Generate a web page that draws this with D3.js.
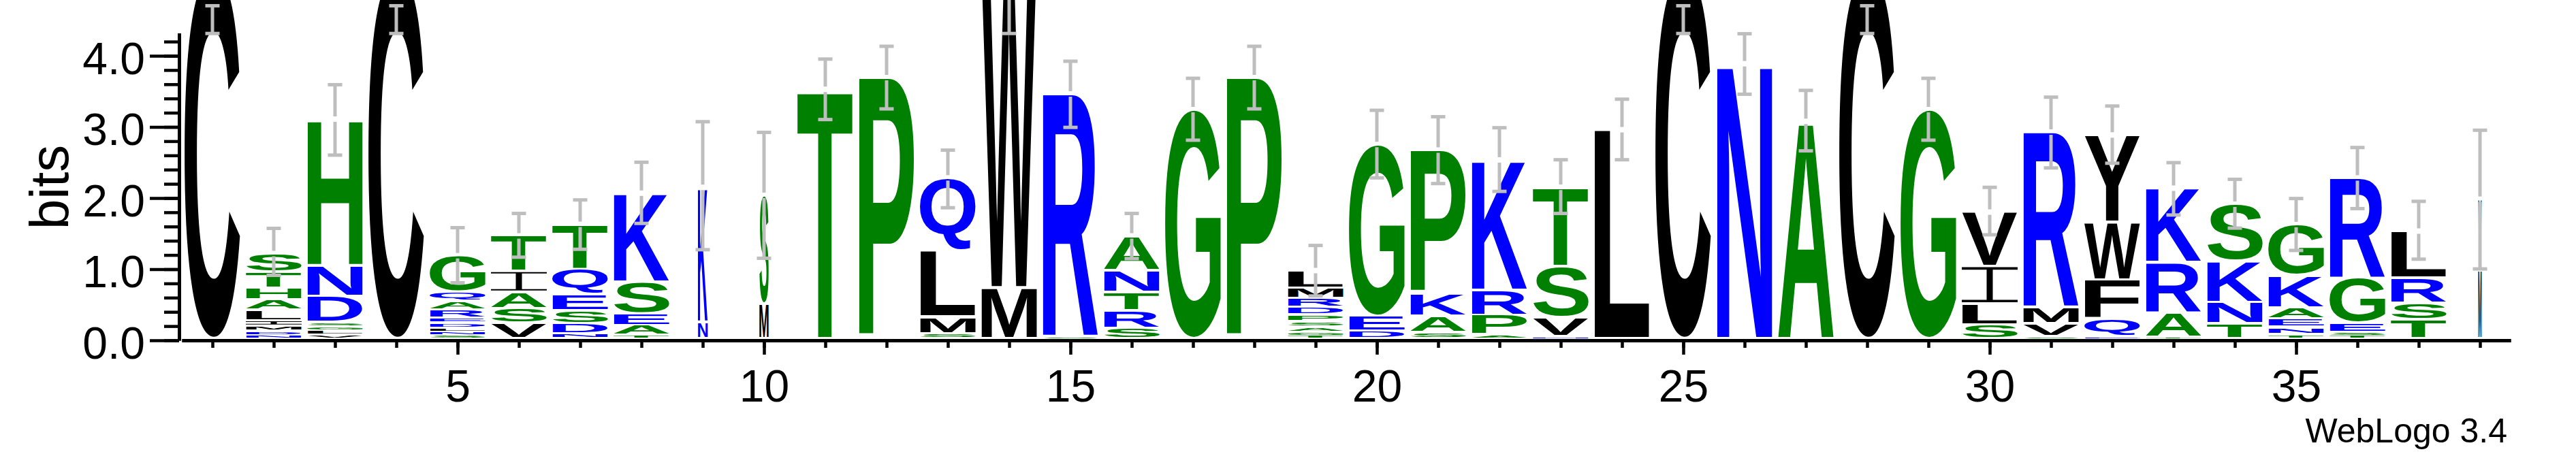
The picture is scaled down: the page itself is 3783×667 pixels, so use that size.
<!DOCTYPE html>
<html>
<head>
<meta charset="utf-8">
<script src="https://cdnjs.cloudflare.com/ajax/libs/d3/7.8.5/d3.min.js"></script>
<style>
  body { margin: 0; background: #fff; }
  svg { display: block; }
</style>
</head>
<body>
<script>
// sequence positions
var positions = d3.range(1, 39);

// letters of each stack, bottom to top
var stackLetters = ["C", "NDMILAHTS", "VLGSDNH", "C", "SNLDERAQG", "VSAIT", "NDSEQT", "TAESK",
  "NK", "MS", "T", "P", "SMLQ", "MW", "SR", "SRTNA", "G", "P", "TGASPDRML", "DEG", "SAKP",
  "APRK", "NVST", "L", "C", "N", "A", "C", "G", "SLIV", "SVMR", "EQFWY", "TARK", "TNKS",
  "TNEAKG", "TSEGR", "TSRL", "MV"];

// height of each letter in bits, same order
var stackBits = [
  [5.15],
  [0.045, 0.06, 0.07, 0.078, 0.148, 0.144, 0.163, 0.225, 0.263],
  [0.051, 0.064, 0.058, 0.058, 0.365, 0.43, 2.06],
  [5.15],
  [0.053, 0.045, 0.049, 0.07, 0.073, 0.115, 0.119, 0.134, 0.508],
  [0.213, 0.204, 0.237, 0.29, 0.50],
  [0.07, 0.139, 0.188, 0.233, 0.35, 0.627],
  [0.045, 0.139, 0.164, 0.445, 1.252],
  [0.233, 1.894],
  [0.49, 1.525],
  [3.505],
  [3.67],
  [0.07, 0.237, 0.933, 1.02],
  [0.716, 4.6],
  [0.03, 3.41],
  [0.143, 0.246, 0.261, 0.311, 0.483],
  [3.22],
  [3.67],
  [0.04, 0.05, 0.07, 0.075, 0.10, 0.102, 0.132, 0.143, 0.245],
  [0.103, 0.21, 2.416],
  [0.088, 0.226, 0.32, 2.017],
  [0.05, 0.279, 0.351, 1.833],
  [0.029, 0.263, 0.718, 1.118],
  [2.937],
  [5.15],
  [3.865],
  [3.055],
  [5.15],
  [3.22],
  [0.192, 0.295, 0.527, 0.765],
  [0.033, 0.18, 0.229, 2.462],
  [0.026, 0.24, 0.56, 0.81, 1.227],
  [0.016, 0.34, 0.711, 1.048],
  [0.209, 0.302, 0.581, 0.798],
  [0.059, 0.099, 0.121, 0.156, 0.451, 0.718],
  [0.038, 0.045, 0.135, 0.634, 1.407],
  [0.263, 0.234, 0.354, 0.661],
  [0.97, 0.99]
];

// share of the column width (gappy columns are narrow)
var stackWidth = positions.map(function(p) { return 1; });
stackWidth[8] = 0.175;
stackWidth[9] = 0.165;
stackWidth[37] = 0.06;

// error bar ends, bits
var errLow = [4.29, 0.89, 2.58, 4.29, 0.785, 1.145, 1.256, 1.62, 1.25, 1.13, 3.08, 3.23, 1.84,
  4.29, 2.97, 1.125, 2.79, 3.23, 0.60, 2.26, 2.18, 2.07, 1.76, 2.515, 4.29, 3.436, 2.64, 4.29,
  2.79, 1.46, 2.40, 2.466, 1.738, 1.554, 1.24, 1.828, 1.117, 0.98];
var errHigh = [4.68, 1.55, 3.57, 4.68, 1.56, 1.76, 1.95, 2.48, 3.05, 2.90, 3.93, 4.11, 2.65,
  5.6, 3.90, 1.76, 3.66, 4.11, 1.31, 3.21, 3.12, 2.965, 2.515, 3.366, 4.68, 4.286, 3.49, 4.68,
  3.66, 2.127, 3.395, 3.27, 2.474, 2.24, 1.97, 2.687, 1.93, 2.93];

var xTicks = [5, 10, 15, 20, 25, 30, 35];
var yTicks = [0, 1, 2, 3, 4];
var yMinorStep = 0.2;

// hydrophobicity colour scheme
var colorGroups = [["RKDENQ", "#0000ff"], ["SGHTAP", "#008000"], ["YVMCLFIW", "#000000"]];

var width = 3783, height = 667;
var font = "'Liberation Sans', Arial, Helvetica, sans-serif";

var svg = d3.select("body").append("svg")
    .attr("width", width)
    .attr("height", height);

svg.append("rect").attr("width", width).attr("height", height).attr("fill", "#fff");

var x = d3.scaleLinear().domain([0.5, 38.5]).range([267, 3687]);
// axis scale and stack scale (stacks sit on top of the axis line)
var y = d3.scaleLinear().domain([0, 4.32]).range([500, 500 - 4.32 * 104.5]);
var ys = d3.scaleLinear().domain([0, 1]).range([497.5, 393]);

function letterColor(ch) {
  for (var i = 0; i < colorGroups.length; i++) {
    if (colorGroups[i][0].indexOf(ch) >= 0) return colorGroups[i][1];
  }
  return "#000";
}

// tight glyph boxes so each letter fills its cell
var ctx = document.createElement("canvas").getContext("2d");
ctx.font = "bold 100px " + font;
var boxes = {};
function glyphBox(ch) {
  if (!boxes[ch]) {
    var m = ctx.measureText(ch);
    boxes[ch] = {l: m.actualBoundingBoxLeft, r: m.actualBoundingBoxRight,
                 a: m.actualBoundingBoxAscent, d: m.actualBoundingBoxDescent};
  }
  return boxes[ch];
}

// the logo font has a serifed I: bar, stem, bar
function serifI(x0, top, w, h) {
  var t = Math.max(1, h * 0.07), s = w * 0.11, cx = x0 + w / 2;
  var p = d3.path();
  p.rect(x0, top, w, t);
  p.rect(cx - s / 2, top, s, h);
  p.rect(x0, top + h - t, w, t);
  return p.toString();
}

var logo = svg.append("g").attr("class", "stacks");

positions.forEach(function(p, i) {
  var letters = stackLetters[i].split(""),
      bits = stackBits[i],
      w = 82 * stackWidth[i],
      x0 = x(p) - w / 2,
      acc = 0;

  letters.forEach(function(ch, j) {
    var yb = ys(acc), yt = ys(acc + bits[j]);
    acc += bits[j];
    var hb = yb - yt,
        top = yt + 1,
        bot = yb - 2.5;
    if (bot - top < hb * 0.45) {
      var c = (yt + yb) / 2;
      top = c - hb * 0.225;
      bot = c + hb * 0.225;
    }
    if (ch === "I") {
      logo.append("path")
          .attr("d", serifI(x0, top, w, bot - top))
          .attr("fill", letterColor(ch));
      return;
    }
    var g = glyphBox(ch),
        sx = w / (g.l + g.r),
        sy = (bot - top) / (g.a + g.d);
    logo.append("text")
        .attr("transform", "translate(" + x0 + "," + top + ") scale(" + sx + "," + sy + ") translate(" + g.l + "," + g.a + ")")
        .attr("font-family", font)
        .attr("font-weight", "bold")
        .attr("font-size", 100)
        .attr("fill", letterColor(ch))
        .text(ch);
  });
});

// error bars
var bars = svg.append("g")
    .attr("stroke", "#bebebe")
    .attr("stroke-width", 5);

positions.forEach(function(p, i) {
  var cx = x(p),
      lo = ys(errLow[i]),
      hi = ys(errHigh[i]),
      top = ys(d3.sum(stackBits[i]));
  var segs = (top > hi && top < lo) ? [[hi, top - 4], [top + 4, lo]] : [[hi, lo]];
  segs.forEach(function(s) {
    bars.append("line").attr("x1", cx).attr("x2", cx).attr("y1", s[0]).attr("y2", s[1]);
  });
  [lo, hi].forEach(function(v) {
    bars.append("line").attr("x1", cx - 10.5).attr("x2", cx + 10.5).attr("y1", v).attr("y2", v);
  });
});

// axes
function styleAxis(g) {
  g.attr("font-family", font).attr("font-size", 66);
  g.selectAll("path").attr("stroke-width", 5);
  g.selectAll("line").attr("stroke-width", 4.5);
}

svg.append("g")
    .attr("transform", "translate(263,0)")
    .call(d3.axisLeft(y).tickValues(d3.range(0, 4.2 + 1e-6, yMinorStep)).tickSize(22).tickSizeOuter(0).tickFormat(""))
    .call(styleAxis);

svg.append("g")
    .attr("transform", "translate(263,0)")
    .call(d3.axisLeft(y).tickValues(yTicks).tickSize(43).tickSizeOuter(0).tickPadding(7).tickFormat(d3.format(".1f")))
    .call(styleAxis)
    .selectAll("text").attr("dy", "0.4em");

svg.append("g")
    .attr("transform", "translate(0,500)")
    .call(d3.axisBottom(x).tickValues(positions).tickSize(11).tickSizeOuter(0).tickFormat(""))
    .call(styleAxis);

svg.append("g")
    .attr("transform", "translate(0,500)")
    .call(d3.axisBottom(x).tickValues(xTicks).tickSize(21).tickSizeOuter(0).tickPadding(22).tickFormat(d3.format("d")))
    .call(styleAxis);

// y label
svg.append("text")
    .attr("transform", "translate(100,275) rotate(-90)")
    .attr("text-anchor", "middle")
    .attr("font-family", font)
    .attr("font-size", 80)
    .text("bits");

// footer
svg.append("text")
    .attr("x", 3682)
    .attr("y", 650)
    .attr("text-anchor", "end")
    .attr("font-family", font)
    .attr("font-size", 50)
    .text("WebLogo 3.4");
</script>
</body>
</html>
